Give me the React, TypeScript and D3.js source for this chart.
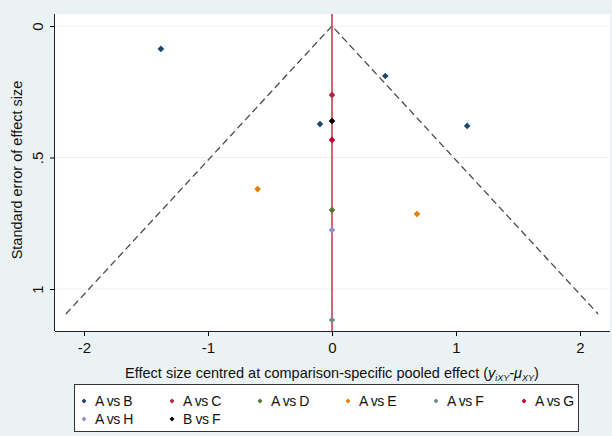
import React, { useEffect, useRef } from "react";
import * as d3 from "d3";

// comparisons and their study points (centred effect, standard error)
const comparisons = ["A vs B", "A vs C", "A vs D", "A vs E", "A vs F", "A vs G", "A vs H", "B vs F"];
const colors = ["#1a476f", "#b0283a", "#55752f", "#e37e00", "#6e8e84", "#c10534", "#938dd2", "#000000"];
const effects = [
  [-1.38, 0.43, -0.097, 1.09],
  [0],
  [0],
  [-0.6, 0.685],
  [0],
  [0],
  [0],
  [0],
];
const stdErrors = [
  [0.087, 0.19, 0.373, 0.38],
  [0.262],
  [0.7],
  [0.62, 0.715],
  [1.118],
  [0.433],
  [0.776],
  [0.361],
];
const xTicks = [-2, -1, 0, 1, 2];
const yTicks = [0, 0.5, 1];
const yTickLabels = ["0", ".5", "1"];
const funnelMaxSe = 1.095;

const W = 612;
const H = 436;
const plot = { left: 55, right: 610, top: 14, bottom: 331 };
const font = "Liberation Sans, Arial, sans-serif";

export default function App() {
  const svgRef = useRef<SVGSVGElement>(null);

  useEffect(() => {
    const svg = d3.select(svgRef.current);
    svg.selectAll("*").remove();

    const x = d3.scaleLinear().domain([-2, 2]).range([84, 580]);
    const y = d3.scaleLinear().domain([0, 1]).range([26, 289]);

    svg.append("rect").attr("width", W).attr("height", H).attr("fill", "#eaf2f3");
    svg.append("rect")
      .attr("x", plot.left).attr("y", plot.top)
      .attr("width", plot.right - plot.left).attr("height", plot.bottom - plot.top)
      .attr("fill", "#ffffff");

    // grid lines
    svg.selectAll(".grid")
      .data(yTicks)
      .enter().append("line")
      .attr("x1", plot.left).attr("x2", plot.right)
      .attr("y1", d => y(d)).attr("y2", d => y(d))
      .attr("stroke", "#eaf2f3").attr("stroke-width", 1);

    // funnel
    const funnel = d3.line<[number, number]>().x(d => x(d[0])).y(d => y(d[1]));
    svg.append("path")
      .attr("d", funnel([[-1.96 * funnelMaxSe, funnelMaxSe], [0, 0], [1.96 * funnelMaxSe, funnelMaxSe]]))
      .attr("fill", "none").attr("stroke", "#4a4a4a").attr("stroke-width", 1.3)
      .attr("stroke-dasharray", "7,4");

    // zero line
    svg.append("line")
      .attr("x1", x(0)).attr("x2", x(0))
      .attr("y1", plot.top).attr("y2", plot.bottom)
      .attr("stroke", "#c8333a").attr("stroke-width", 1.5);

    // points (square rotated 45deg)
    const diamond = d3.symbol().type(d3.symbolSquare).size(22);
    comparisons.forEach((c, i) => {
      const pts = effects[i].map((e, j) => [e, stdErrors[i][j]]);
      svg.selectAll(".pt" + i)
        .data(pts)
        .enter().append("path")
        .attr("d", diamond)
        .attr("transform", d => `translate(${x(d[0])},${y(d[1])}) rotate(45)`)
        .attr("fill", colors[i]);
    });

    // axes
    const xAxis = svg.append("g")
      .attr("transform", `translate(0,${plot.bottom})`)
      .call(d3.axisBottom(x).tickValues(xTicks).tickSize(5).tickPadding(6).tickFormat(d => String(d)));
    xAxis.select(".domain").attr("d", `M${plot.left},0.5H${plot.right}`).attr("stroke", "#222");
    xAxis.selectAll("text").attr("font-size", 15).attr("font-family", font).attr("fill", "#111");

    const yAxis = svg.append("g")
      .attr("transform", `translate(${plot.left},0)`)
      .call(d3.axisLeft(y).tickValues(yTicks).tickSize(5).tickFormat((d, i) => yTickLabels[i]));
    yAxis.select(".domain").attr("d", `M-0.5,${plot.top}V${plot.bottom}`).attr("stroke", "#222");
    yAxis.selectAll("text")
      .attr("font-size", 15).attr("font-family", font).attr("fill", "#111")
      .attr("x", null).attr("dy", null)
      .attr("text-anchor", "middle")
      .attr("transform", "translate(-12,0) rotate(-90)");

    // axis titles
    const xt = svg.append("text")
      .attr("x", 332).attr("y", 378)
      .attr("text-anchor", "middle")
      .attr("font-size", 14.5).attr("font-family", font).attr("fill", "#111");
    xt.append("tspan").text("Effect size centred at comparison-specific pooled effect (");
    xt.append("tspan").attr("font-style", "italic").text("y");
    xt.append("tspan").attr("font-style", "italic").attr("font-size", 9).attr("dy", 3).text("iXY");
    xt.append("tspan").attr("font-style", "italic").attr("dy", -3).text("-μ");
    xt.append("tspan").attr("font-style", "italic").attr("font-size", 9).attr("dy", 3).text("XY");
    xt.append("tspan").attr("dy", -3).text(")");

    svg.append("text")
      .attr("transform", "translate(22,170) rotate(-90)")
      .attr("text-anchor", "middle")
      .attr("font-size", 14.5).attr("font-family", font).attr("fill", "#111")
      .text("Standard error of effect size");

    // legend
    const lg = svg.append("g");
    lg.append("rect")
      .attr("x", 74.5).attr("y", 384.5).attr("width", 504).attr("height", 47)
      .attr("fill", "#ffffff").attr("stroke", "#333").attr("stroke-width", 1);
    const smallDiamond = d3.symbol().type(d3.symbolSquare).size(12);
    comparisons.forEach((c, i) => {
      const col = i % 6;
      const row = Math.floor(i / 6);
      const gx = 84 + col * 88;
      const gy = 401 + row * 18;
      lg.append("path").attr("d", smallDiamond).attr("transform", `translate(${gx},${gy}) rotate(45)`).attr("fill", colors[i]);
      lg.append("text")
        .attr("x", gx + 11).attr("y", gy + 5)
        .attr("font-size", 14).attr("font-family", font).attr("fill", "#111")
        .attr("letter-spacing", -0.4)
        .text(c);
    });
  }, []);

  return (
    <svg ref={svgRef} width={W} height={H} style={{ position: "absolute", left: 0, top: 0 }}></svg>
  );
}
